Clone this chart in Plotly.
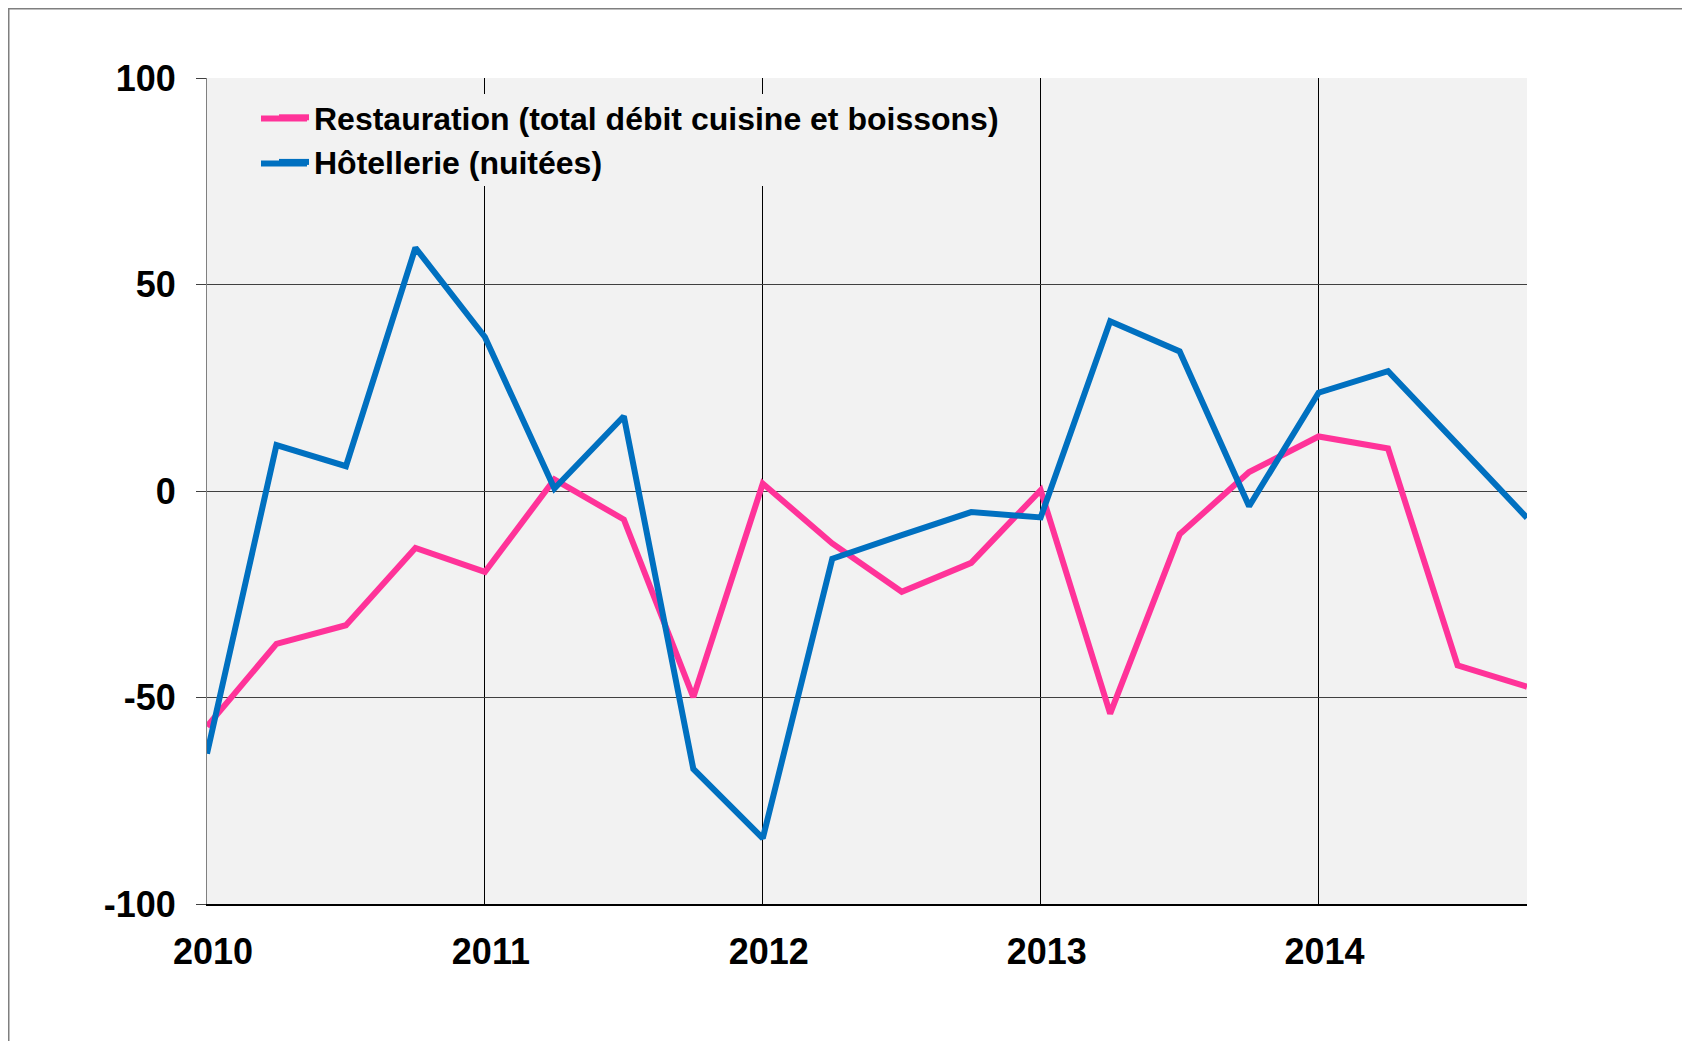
import plotly.graph_objects as go

# Quarterly data, 2010 Q1 .. 2014 Q4
quarters = [2010 + i * 0.25 for i in range(20)]
restauration = [-57, -37, -32.5, -13.8, -19.6, 2.8, -6.9, -49.9, 1.8, -12.7,
                -24.4, -17.4, 0.2, -53.9, -10.5, 4.6, 13.2, 10.3, -42.2, -47.4]
hotellerie = [-63.6, 11.1, 6.0, 58.9, 37.3, 0.6, 18.1, -67.3, -84.1, -16.4,
              -10.7, -5.1, -6.4, 41.1, 33.8, -3.7, 23.8, 29.0, 11.3, -6.5]
year_ticks = [2010, 2011, 2012, 2013, 2014]
year_labels = ["2010", "2011", "2012", "2013", "2014"]
y_ticks = [-100, -50, 0, 50, 100]
y_labels = ["-100", "-50", "0", "50", "100"]

FONT = "Liberation Sans, Arial, sans-serif"
PINK, BLUE = "#FF3399", "#0070C0"

fig = go.Figure()
fig.add_trace(go.Scatter(x=quarters, y=restauration, mode="lines",
                         name="Restauration (total débit cuisine et boissons)",
                         line=dict(color=PINK, width=6)))
fig.add_trace(go.Scatter(x=quarters, y=hotellerie, mode="lines",
                         name="Hôtellerie (nuitées)",
                         line=dict(color=BLUE, width=6)))

W, H = 1690, 1041
OFF = 8  # page body margin
L, T = 207 - OFF, 78 - OFF
R = W - (1527 - OFF)
B = H - (904 - OFF)
pw, ph = W - L - R, H - T - B

def px_x(x):  # page x -> paper
    return (x - OFF - L) / pw

def px_y(y):  # page y -> paper
    return 1 - (y - OFF - T) / ph

# outer frame
fig.add_shape(type="rect", xref="paper", yref="paper",
              x0=px_x(8.5), x1=px_x(1684), y0=px_y(1080), y1=px_y(8.5),
              line=dict(color="#7f7f7f", width=2), fillcolor="rgba(0,0,0,0)",
              layer="below")
# legend background (hides gridlines behind the legend)
fig.add_shape(type="rect", xref="paper", yref="paper",
              x0=px_x(255), x1=px_x(1005), y0=px_y(186), y1=px_y(94),
              line=dict(width=0), fillcolor="#F2F2F2", layer="above")
# longer legend keys, as in the reference
for yc, col in [(118.5, PINK), (163.5, BLUE)]:
    fig.add_shape(type="line", xref="paper", yref="paper",
                  x0=px_x(261), x1=px_x(307), y0=px_y(yc), y1=px_y(yc),
                  line=dict(color=col, width=6), layer="above")

fig.update_layout(
    width=W, height=H,
    margin=dict(l=L, r=R, t=T, b=B),
    paper_bgcolor="white",
    plot_bgcolor="#F2F2F2",
    font=dict(family=FONT, color="black"),
    showlegend=True,
    legend=dict(x=px_x(274), y=px_y(90), xanchor="left", yanchor="top",
                bgcolor="rgba(0,0,0,0)", borderwidth=0,
                font=dict(family=FONT, size=32, color="black", weight=700),
                tracegroupgap=0),
    xaxis=dict(range=[2010, 2014.75], tickmode="array", tickvals=year_ticks,
               ticktext=year_labels, showgrid=True, gridcolor="#000000",
               gridwidth=1, zeroline=False, showline=True, linecolor="#000000",
               linewidth=2, ticks="", ticklabelstandoff=15, ticklabelshift=6,
               tickfont=dict(family=FONT, size=36, color="black", weight=700)),
    yaxis=dict(range=[-100, 100], tickmode="array", tickvals=y_ticks,
               ticktext=y_labels, showgrid=True, gridcolor="#404040",
               gridwidth=1, zeroline=False, showline=True, linecolor="#808080",
               linewidth=1, ticks="outside", ticklen=10, tickcolor="#404040",
               ticklabelstandoff=13,
               tickfont=dict(family=FONT, size=36, color="black", weight=700)),
)

fig.write_html("out.html")
